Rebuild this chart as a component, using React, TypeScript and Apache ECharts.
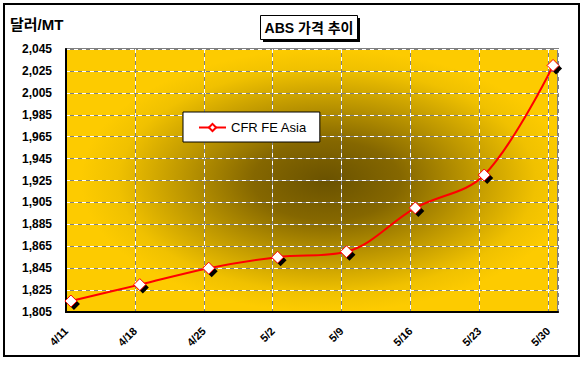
import React, { useEffect, useRef } from "react";
import * as echarts from "echarts";

const categories = ["4/11", "4/18", "4/25", "5/2", "5/9", "5/16", "5/23", "5/30"];
const values = [1815, 1830, 1845, 1855, 1860, 1900, 1930, 2030];
const seriesName = "CFR FE Asia";
const chartTitle = "ABS 가격 추이";
const yUnit = "달러/MT";
const daysPerTick = 7;
const yMin = 1805;
const yMax = 2045;
const yStep = 20;

const LATIN = '"Liberation Sans", Arial, sans-serif';
const KR = '"Liberation Sans", "Noto Sans CJK KR", sans-serif';

export default function App() {
  const ref = useRef<HTMLDivElement>(null);
  useEffect(() => {
    if (!ref.current) return;
    const chart = echarts.init(ref.current, undefined, { renderer: "svg" });
    const pts = values.map((v, i) => [i * daysPerTick + 0.5, v]);
    const xMax = categories.length * daysPerTick - daysPerTick + 1;
    const xLabel = (v: number) => {
      const idx = Math.round(v / daysPerTick);
      return v % daysPerTick === 0 && categories[idx] ? categories[idx] : "";
    };
    const dash = [4, 4];
    chart.setOption({
      animation: false,
      backgroundColor: "#ffffff",
      grid: {
        left: 66,
        top: 49,
        right: 27,
        bottom: 53,
        show: true,
        borderColor: "#808080",
        borderWidth: 2,
        backgroundColor: {
          type: "radial",
          x: 0.53,
          y: 0.5,
          r: 0.5,
          colorStops: [
            { offset: 0, color: "#6a5200" },
            { offset: 0.3, color: "#856700" },
            { offset: 0.6, color: "#c09900" },
            { offset: 0.85, color: "#f0c100" },
            { offset: 1, color: "#fdcb00" },
          ],
        },
      },
      legend: {
        data: [seriesName],
        left: 183,
        top: 112,
        orient: "horizontal",
        backgroundColor: "#ffffff",
        borderColor: "#000000",
        borderWidth: 1,
        borderRadius: 0,
        padding: [9, 13, 8, 15],
        itemWidth: 27,
        itemHeight: 9,
        itemGap: 4,
        textStyle: { fontFamily: LATIN, fontSize: 13, color: "#000" },
      },
      xAxis: [
        {
          type: "value",
          min: 0,
          max: xMax,
          interval: daysPerTick,
          axisLine: { show: true, onZero: false, lineStyle: { color: "#000", width: 2 } },
          axisTick: { show: false },
          axisLabel: {
            formatter: xLabel,
            rotate: 45,
            margin: 17,
            showMaxLabel: false,
            fontFamily: LATIN,
            fontWeight: "bold",
            fontSize: 11,
            color: "#000",
          },
          splitLine: { show: true, lineStyle: { color: "#ffffff", width: 1, type: dash } },
        },
        {
          type: "value",
          min: 0,
          max: xMax,
          interval: daysPerTick,
          position: "bottom",
          axisLine: { show: false },
          axisTick: { show: false },
          axisLabel: { show: false },
          splitLine: { show: true, lineStyle: { color: "#808080", width: 1, type: dash, dashOffset: 4 } },
        },
      ],
      yAxis: [
        {
          type: "value",
          min: yMin,
          max: yMax,
          interval: yStep,
          axisLine: { show: true, onZero: false, lineStyle: { color: "#000", width: 2 } },
          axisTick: { show: false },
          axisLabel: {
            formatter: (v: number) => v.toLocaleString("en-US"),
            margin: 14,
            fontFamily: LATIN,
            fontWeight: "bold",
            fontSize: 12,
            color: "#000",
          },
          splitLine: { show: true, lineStyle: { color: "#ffffff", width: 1, type: dash } },
        },
        {
          type: "value",
          min: yMin,
          max: yMax,
          interval: yStep,
          position: "left",
          axisLine: { show: false },
          axisTick: { show: false },
          axisLabel: { show: false },
          splitLine: { show: true, lineStyle: { color: "#808080", width: 1, type: dash, dashOffset: 4 } },
        },
      ],
      series: [
        {
          name: "shadow",
          type: "scatter",
          data: pts,
          symbol: "diamond",
          symbolSize: 12,
          symbolOffset: [3, 3],
          itemStyle: { color: "#000000", opacity: 1 },
          silent: true,
          z: 4,
        },
        {
          name: seriesName,
          type: "line",
          data: pts,
          smooth: 0.35,
          symbol: "diamond",
          symbolSize: 12,
          showAllSymbol: true,
          lineStyle: { color: "#ff0000", width: 2 },
          itemStyle: { color: "#ffffff", borderColor: "#ff0000", borderWidth: 1 },
          z: 5,
        },
      ],
      graphic: [
        {
          type: "rect",
          shape: { x: 4, y: 4, width: 575, height: 352 },
          style: { fill: "none", stroke: "#000", lineWidth: 2 },
          silent: true,
        },
        {
          type: "rect",
          shape: { x: 263, y: 18, width: 97, height: 24 },
          style: { fill: "#000" },
          silent: true,
        },
        {
          type: "rect",
          shape: { x: 260.5, y: 15.5, width: 97, height: 24 },
          style: { fill: "#fff", stroke: "#000", lineWidth: 1 },
          silent: true,
        },
        {
          type: "text",
          x: 309,
          y: 28,
          style: {
            text: chartTitle,
            fill: "#000",
            font: `bold 14px ${KR}`,
            align: "center",
            verticalAlign: "middle",
          },
          silent: true,
        },
        {
          type: "text",
          x: 10,
          y: 24,
          style: {
            text: yUnit,
            fill: "#000",
            font: `bold 15px ${KR}`,
            align: "left",
            verticalAlign: "middle",
          },
          silent: true,
        },
      ],
    });
    return () => chart.dispose();
  }, []);
  return (
    <div
      ref={ref}
      style={{ position: "absolute", left: 0, top: 0, width: 585, height: 365, background: "#fff" }}
    />
  );
}
